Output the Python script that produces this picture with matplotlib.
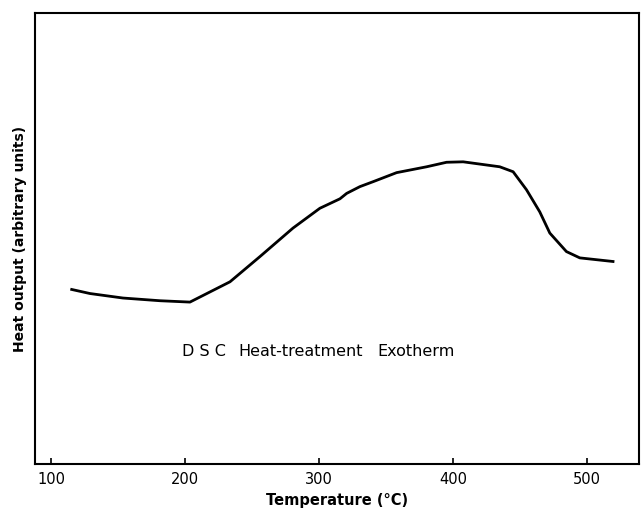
import matplotlib
matplotlib.use("Agg")
import matplotlib.pyplot as plt

# DSC curve (temperature in C, heat output in arbitrary units)
temperature = [115.4, 129.0, 153.7, 181.3, 203.7, 233.6, 256.0, 280.6, 300.7,
               315.7, 320.7, 330.6, 340.5, 358.0, 380.4, 395.3, 407.7, 435.0,
               445.0, 455.0, 464.9, 472.4, 484.8, 494.8, 519.6]
heat_output = [3.87, 3.78, 3.68, 3.62, 3.59, 4.04, 4.60, 5.23, 5.67,
               5.88, 6.00, 6.15, 6.26, 6.46, 6.59, 6.69, 6.70, 6.59,
               6.48, 6.08, 5.59, 5.12, 4.71, 4.57, 4.49]
xticks = [100, 200, 300, 400, 500]

# annotation words and where they start (temperature units)
note_words = ["D S C", "Heat-treatment", "Exotherm"]
note_starts = [197.8, 239.6, 344.0]


def main():
    fig = plt.figure(figsize=(6.41, 5.13), dpi=100)
    ax = fig.add_axes([0.0546, 0.0955, 0.9423, 0.8792])

    ax.plot(temperature, heat_output, color="black", linewidth=2.0)

    ax.set_xlim(88, 539)
    ax.set_ylim(0, 10)
    ax.set_xticks(xticks)
    ax.set_xticklabels([str(t) for t in xticks], fontsize=10.5)
    ax.set_yticks([])
    ax.tick_params(axis="x", direction="in", length=4, width=1.2, pad=6)
    for side in ax.spines.values():
        side.set_linewidth(1.5)

    for word, x0 in zip(note_words, note_starts):
        ax.text(x0, 2.5, word, ha="left", va="center", fontsize=11.5)

    ax.set_xlabel("Temperature (°C)", fontsize=10.5, fontweight="bold", labelpad=4)
    ax.set_ylabel("Heat output (arbitrary units)", fontsize=10,
                  fontweight="bold", labelpad=6)

    fig.savefig("out.png", dpi=100)


if __name__ == "__main__":
    main()
